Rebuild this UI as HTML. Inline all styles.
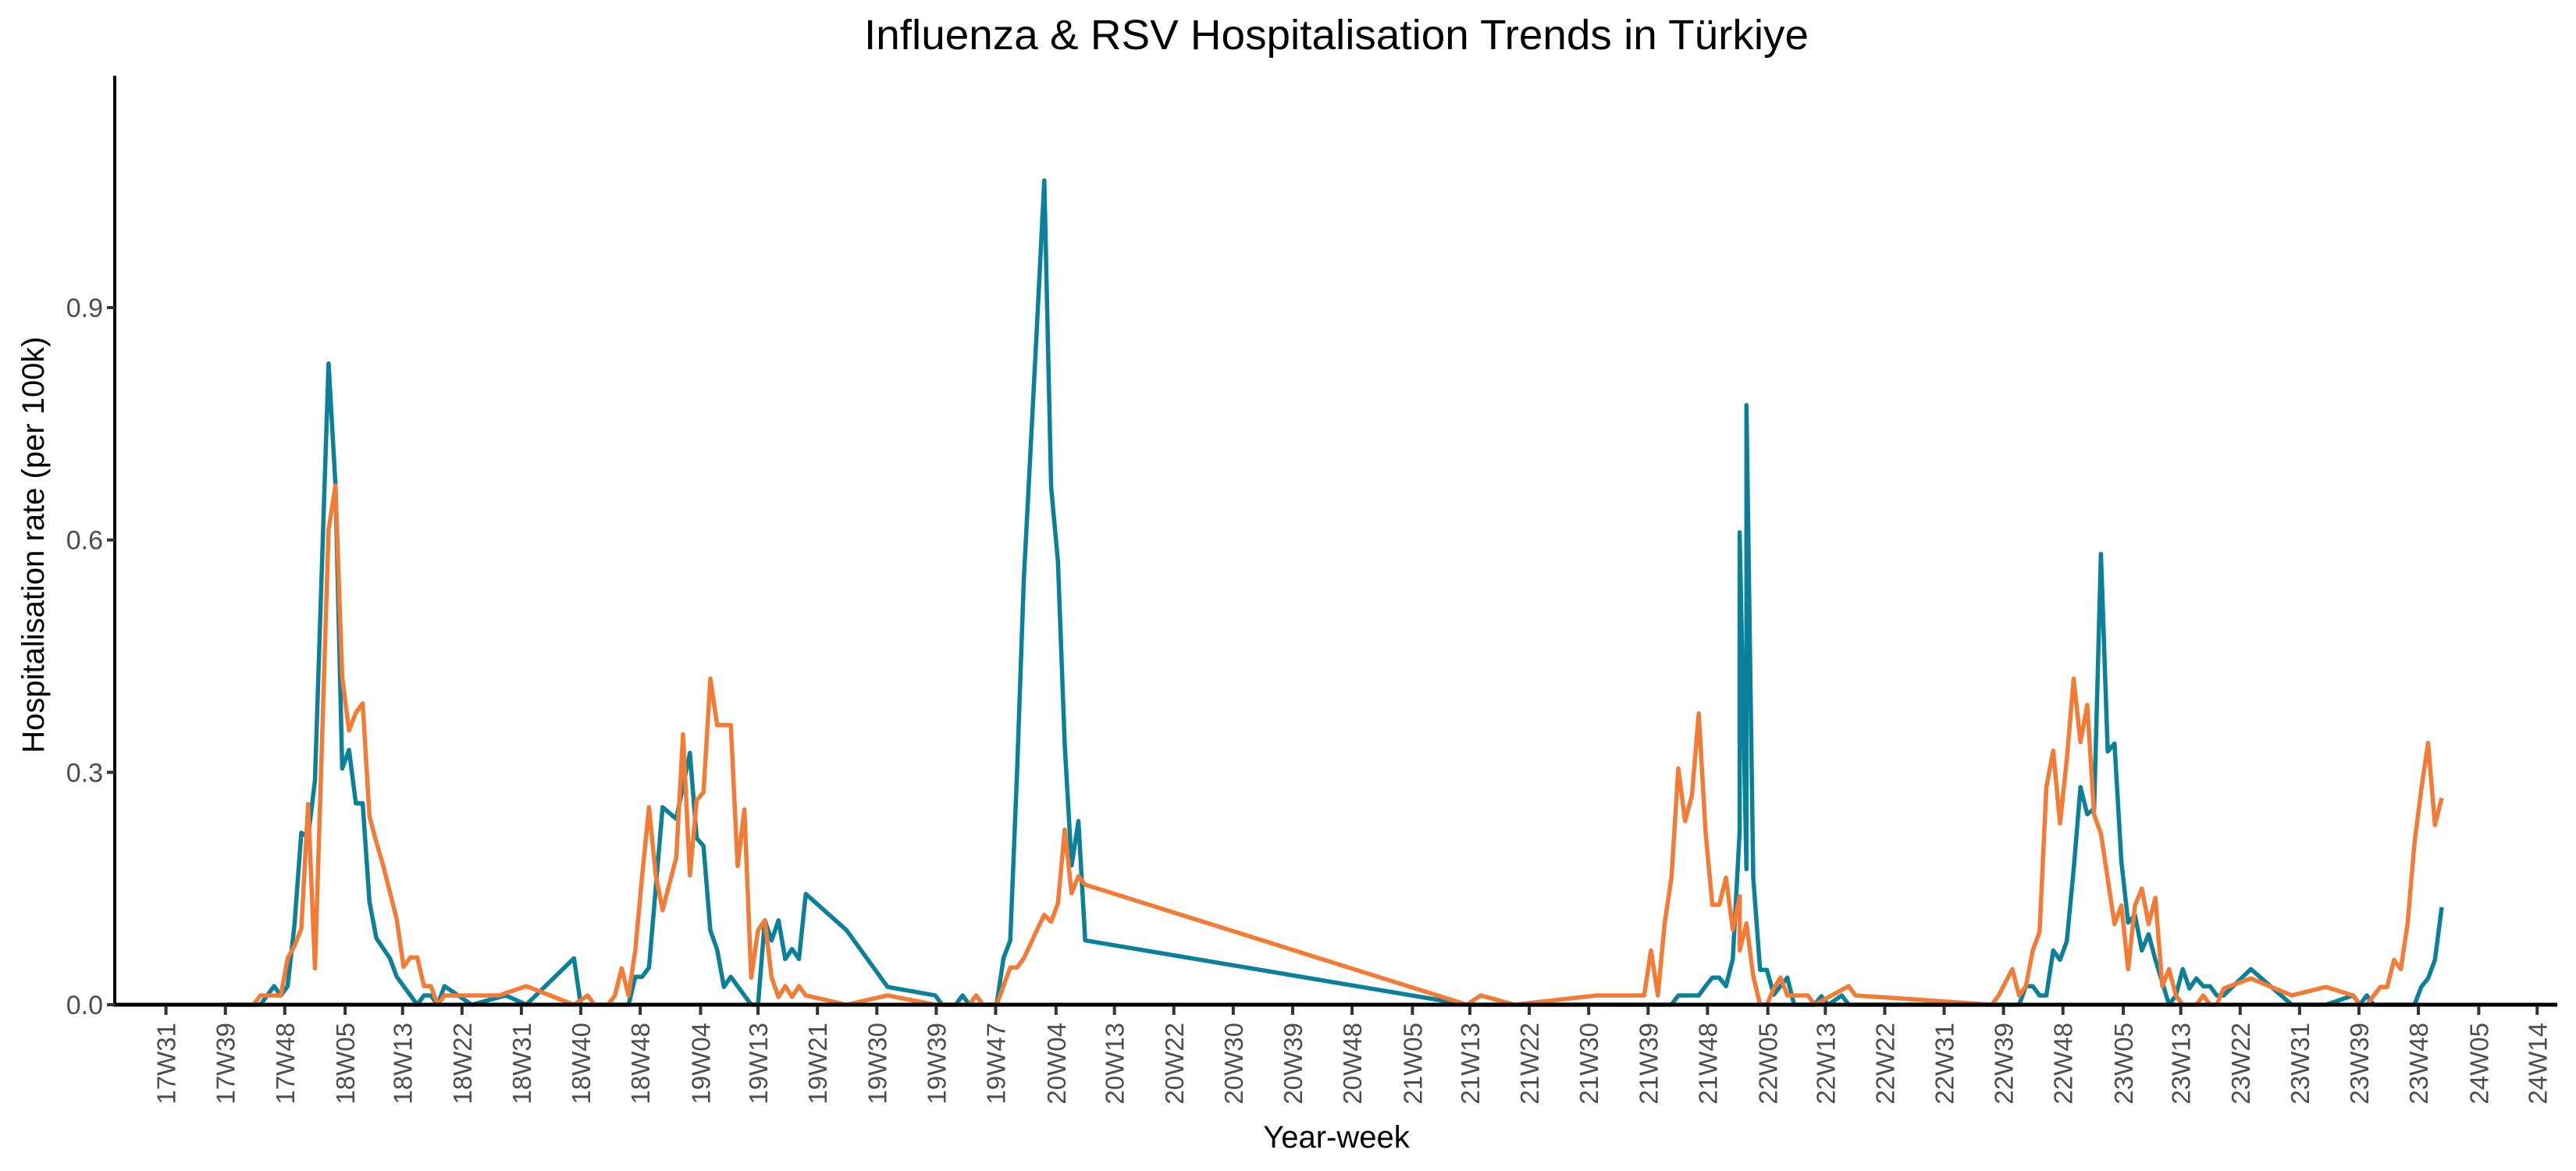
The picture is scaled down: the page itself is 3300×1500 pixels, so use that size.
<!DOCTYPE html>
<html><head><meta charset="utf-8"><style>
html,body{margin:0;padding:0;background:#fff;}
svg{display:block;font-family:"Liberation Sans",sans-serif;}
</style></head><body>
<svg id="chart" width="3300" height="1500" viewBox="0 0 3300 1500" xmlns="http://www.w3.org/2000/svg">
<rect width="3300" height="1500" fill="#fff"/>
<text x="1712" y="63" text-anchor="middle" font-size="54" textLength="1210" lengthAdjust="spacingAndGlyphs" fill="#000">Influenza &amp; RSV Hospitalisation Trends in Türkiye</text>
<g id="plot"></g>
<text x="0" y="0" transform="translate(56,698) rotate(-90)" text-anchor="middle" font-size="40" fill="#000">Hospitalisation rate (per 100k)</text>
<text x="1712" y="1470" text-anchor="middle" font-size="40" fill="#000">Year-week</text>
</svg>
<script>
// ---- data ----
const fluWeeks = ["17W40","17W45","17W46","17W47","17W48","17W49","17W50","17W51","17W52","18W01","18W02","18W03","18W04","18W05","18W06","18W07","18W08","18W09","18W10","18W12","18W13","18W16","18W17","18W18","18W19","18W20","18W22","18W24","18W29","18W32","18W39","18W40","18W47","18W48","18W49","18W50","18W52","19W02","19W04","19W05","19W06","19W07","19W08","19W09","19W10","19W13","19W14","19W15","19W16","19W17","19W18","19W19","19W20","19W21","19W27","19W33","19W40","19W41","19W43","19W44","19W45","19W49","19W50","19W51","19W52","20W01","20W02","20W03","20W04","20W05","20W06","20W07","20W08","20W09","20W10","21W13","21W43","21W44","21W47","21W48","21W49","21W50","21W51","21W52","22W01","22W01","22W02","22W02","22W03","22W04","22W05","22W06","22W07","22W08","22W09","22W12","22W13","22W14","22W16","22W17","22W42","22W43","22W44","22W45","22W46","22W47","22W48","22W49","22W50","22W51","22W52","23W01","23W02","23W03","23W04","23W05","23W06","23W07","23W08","23W09","23W10","23W11","23W12","23W13","23W14","23W15","23W16","23W17","23W18","23W19","23W20","23W24","23W30","23W35","23W39","23W40","23W41","23W42","23W48","23W49","23W50","23W51","23W52"];
const fluValues = [0,0,0.012,0.024,0.012,0.024,0.104,0.222,0.216,0.29,0.56,0.828,0.672,0.305,0.329,0.26,0.26,0.133,0.086,0.06,0.036,0,0.012,0.012,0,0.024,0.012,0,0.012,0,0.06,0,0,0.036,0.036,0.048,0.255,0.24,0.325,0.215,0.205,0.096,0.071,0.023,0.036,0,0,0.109,0.083,0.109,0.059,0.072,0.059,0.143,0.096,0.023,0.012,0,0,0.012,0,0,0.06,0.083,0.30,0.55,0.72,0.89,1.064,0.668,0.572,0.335,0.18,0.237,0.083,0,0,0.012,0.012,0.024,0.035,0.035,0.024,0.059,0.224,0.61,0.175,0.774,0.164,0.045,0.045,0.013,0.024,0.035,0,0,0.011,0,0.012,0,0,0.024,0.024,0.012,0.012,0.07,0.058,0.082,0.175,0.281,0.246,0.253,0.582,0.327,0.337,0.185,0.106,0.116,0.07,0.091,0.058,0.029,0,0.012,0.046,0.021,0.034,0.024,0.024,0.012,0.012,0.046,0,0,0.012,0,0.012,0,0,0.023,0.034,0.058,0.126];
const rsvWeeks = ["17W40","17W44","17W45","17W48","17W49","17W50","17W51","17W52","18W01","18W03","18W04","18W05","18W06","18W07","18W08","18W09","18W10","18W11","18W13","18W14","18W15","18W16","18W17","18W18","18W19","18W20","18W28","18W32","18W39","18W41","18W42","18W44","18W45","18W46","18W47","18W48","18W49","18W50","18W51","18W52","19W02","19W03","19W04","19W05","19W06","19W07","19W08","19W10","19W11","19W12","19W13","19W14","19W15","19W16","19W17","19W18","19W19","19W20","19W21","19W27","19W33","19W40","19W45","19W46","19W47","19W49","19W50","19W51","19W52","20W01","20W02","20W03","20W04","20W05","20W06","20W07","20W08","20W09","20W10","21W13","21W15","21W20","21W32","21W39","21W40","21W41","21W42","21W43","21W44","21W45","21W46","21W47","21W48","21W49","21W50","21W51","21W52","22W01","22W01","22W02","22W03","22W04","22W05","22W06","22W07","22W08","22W11","22W12","22W17","22W18","22W38","22W39","22W41","22W42","22W43","22W44","22W45","22W46","22W47","22W48","22W49","22W50","22W51","22W52","23W01","23W02","23W04","23W05","23W06","23W07","23W08","23W09","23W10","23W11","23W12","23W13","23W14","23W16","23W17","23W18","23W19","23W20","23W24","23W30","23W35","23W39","23W40","23W41","23W43","23W44","23W45","23W46","23W47","23W48","23W49","23W50","23W51","23W52"];
const rsvValues = [0,0,0.012,0.012,0.06,0.076,0.098,0.259,0.047,0.613,0.67,0.423,0.354,0.377,0.389,0.243,0.21,0.18,0.11,0.049,0.061,0.061,0.024,0.024,0,0.012,0.012,0.024,0,0.012,0,0,0.012,0.047,0.012,0.071,0.166,0.255,0.167,0.122,0.19,0.349,0.167,0.264,0.274,0.421,0.361,0.361,0.179,0.252,0.035,0.096,0.109,0.035,0.01,0.024,0.01,0.024,0.012,0,0.012,0,0,0.012,0,0,0.024,0.048,0.048,0.06,0.079,0.098,0.116,0.107,0.131,0.226,0.144,0.166,0.155,0,0.012,0,0.012,0.012,0.07,0.012,0.105,0.164,0.305,0.237,0.27,0.376,0.223,0.129,0.129,0.164,0.097,0.14,0.07,0.105,0.037,0,0,0.021,0.035,0.012,0.012,0,0.024,0.012,0,0.012,0.046,0.012,0.024,0.07,0.094,0.281,0.328,0.234,0.317,0.421,0.339,0.387,0.245,0.221,0.104,0.128,0.046,0.128,0.15,0.104,0.138,0.024,0.046,0.012,0,0,0.012,0,0,0.021,0.034,0.012,0.023,0.012,0,0,0.023,0.023,0.058,0.046,0.105,0.209,0.278,0.338,0.232,0.267];
const yTickValues = [0, 0.3, 0.6, 0.9];
const yTickLabels = ["0.0","0.3","0.6","0.9"];
const xTickLabels = ["17W31","17W39","17W48","18W05","18W13","18W22","18W31","18W40","18W48","19W04","19W13","19W21","19W30","19W39","19W47","20W04","20W13","20W22","20W30","20W39","20W48","21W05","21W13","21W22","21W30","21W39","21W48","22W05","22W13","22W22","22W31","22W39","22W48","23W05","23W13","23W22","23W31","23W39","23W48","24W05","24W14"];
const xTickDates = ["2017-08-01","2017-10-01","2017-12-01","2018-02-01","2018-04-01","2018-06-01","2018-08-01","2018-10-01","2018-12-01","2019-02-01","2019-04-01","2019-06-01","2019-08-01","2019-10-01","2019-12-01","2020-02-01","2020-04-01","2020-06-01","2020-08-01","2020-10-01","2020-12-01","2021-02-01","2021-04-01","2021-06-01","2021-08-01","2021-10-01","2021-12-01","2022-02-01","2022-04-01","2022-06-01","2022-08-01","2022-10-01","2022-12-01","2023-02-01","2023-04-01","2023-06-01","2023-08-01","2023-10-01","2023-12-01","2024-02-01","2024-04-01"];

// ---- scales ----
const NS = "http://www.w3.org/2000/svg";
const DAY = 86400000;
const X0 = 212.6, PX_PER_DAY = 1.2475, ORIGIN = Date.UTC(2017,7,1);
const Y0 = 1287, PX_PER_UNIT = 992.2;
function xDate(ms){ return X0 + (ms - ORIGIN)/DAY*PX_PER_DAY; }
function isoMonday(label){
  const y = 2000 + parseInt(label.slice(0,2),10), w = parseInt(label.slice(3),10);
  const jan4 = Date.UTC(y,0,4); const dow = (new Date(jan4).getUTCDay()+6)%7;
  return jan4 - dow*DAY + (w-1)*7*DAY;
}
function xWeek(label){ return xDate(isoMonday(label)); }
function yVal(v){ return Y0 - v*PX_PER_UNIT; }
function parseDate(s){ const p=s.split("-"); return Date.UTC(+p[0], +p[1]-1, +p[2]); }

const plot = document.getElementById("plot");
function mk(tag, attrs){ const e=document.createElementNS(NS,tag); for(const k in attrs) e.setAttribute(k,attrs[k]); return e; }

// series
function drawSeries(weeks, vals, color, name){
  const d = weeks.map((w,i)=>(i?"L":"M")+xWeek(w).toFixed(1)+","+yVal(vals[i]).toFixed(1)).join(" ");
  const p = mk("path",{d:d, fill:"none", stroke:color, "stroke-width":5.5, "stroke-linejoin":"round", "stroke-linecap":"butt"});
  
  
  plot.appendChild(p);
}
drawSeries(fluWeeks, fluValues, "#0a8199", "influenza-line");
drawSeries(rsvWeeks, rsvValues, "#f47b35", "rsv-line");

// axes
const yAxis = mk("line",{x1:147,y1:97,x2:147,y2:1289,stroke:"#000","stroke-width":4});


plot.appendChild(yAxis);
const xAxis = mk("line",{x1:145,y1:1287,x2:3276,y2:1287,stroke:"#000","stroke-width":5});


plot.appendChild(xAxis);

yTickValues.forEach((v,i)=>{
  const y = yVal(v);
  const t = mk("line",{x1:137,y1:y,x2:147,y2:y,stroke:"#333","stroke-width":4});
  
  
  plot.appendChild(t);
  const lb = mk("text",{x:132,y:y+12,"text-anchor":"end","font-size":34,fill:"#4d4d4d"});
  lb.textContent = yTickLabels[i];
  
  
  plot.appendChild(lb);
});

xTickLabels.forEach((lab,i)=>{
  const x = xDate(parseDate(xTickDates[i]));
  const t = mk("line",{x1:x,y1:1289,x2:x,y2:1300,stroke:"#333","stroke-width":4});
  
  
  plot.appendChild(t);
  const lb = mk("text",{x:0,y:0,transform:"translate("+(x+12).toFixed(1)+",1310) rotate(-90)","text-anchor":"end","font-size":33,fill:"#4d4d4d"});
  lb.textContent = lab;
  
  
  plot.appendChild(lb);
});
</script>
</body></html>
